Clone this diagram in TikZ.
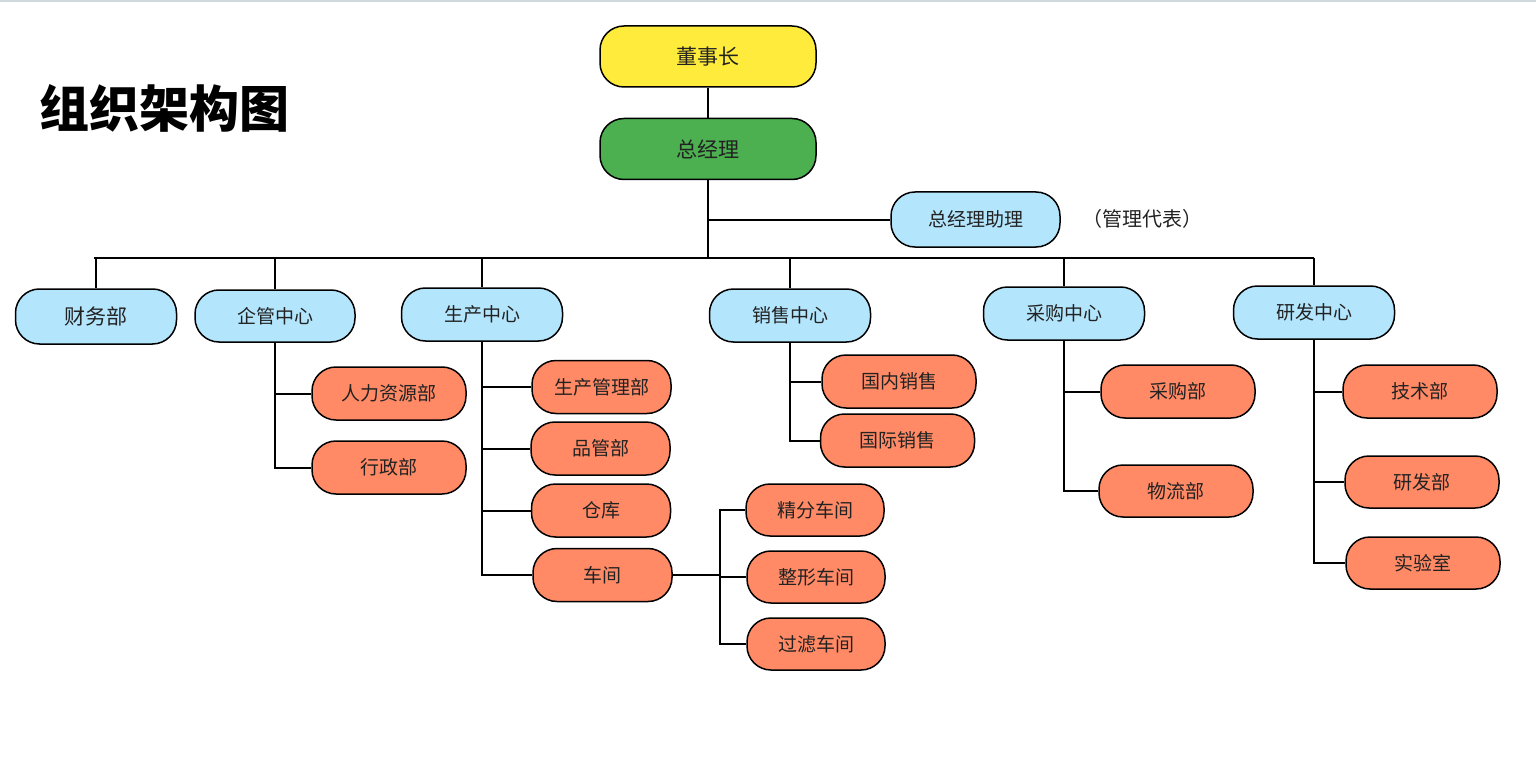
\documentclass[tikz,border=0pt]{standalone}
\usepackage{fontspec}
\newfontfamily\cjk{Noto Sans CJK SC}
\definecolor{cyellow}{HTML}{FFEB3B}
\definecolor{cgreen}{HTML}{4CAF50}
\definecolor{cblue}{HTML}{B3E5FC}
\definecolor{corange}{HTML}{FF8A65}
\definecolor{ctext}{HTML}{222222}
\definecolor{ctop}{HTML}{CFD8DC}
\begin{document}
\begin{tikzpicture}[x=1pt,y=-1pt,
  box/.style={draw=black, line width=1.5pt, rounded corners=24pt, inner sep=0pt,
    minimum height=53pt, text=ctext, font=\cjk\fontsize{19}{19}\selectfont},
  topbox/.style={box, minimum width=216pt, minimum height=61pt, font=\cjk\fontsize{21}{21}\selectfont},
  midbox/.style={box, fill=cblue, minimum width=161pt},
  subbox/.style={box, fill=corange, minimum width=154pt},
  prodbox/.style={box, fill=corange, minimum width=139pt},
  link/.style={draw=black, line width=2pt}
]
\useasboundingbox (0,0) rectangle (1536,770);
\draw[ctop, line width=2pt] (0,1) -- (1536,1);

\node[anchor=west, font=\cjk\bfseries\fontsize{50}{50}\selectfont] (title) at (36,108) {组织架构图};

\node[topbox, fill=cyellow] (dsz) at (708,56.5) {董事长};
\node[topbox, fill=cgreen] (zjl) at (708,149) {总经理};
\node[box, fill=cblue, minimum width=169pt, minimum height=55pt] (zl) at (975.5,219.5) {总经理助理};
\node[text=ctext, font=\cjk\fontsize{20}{20}\selectfont] (dbn) at (1142,219) {（管理代表）};

\node[midbox, minimum height=55pt, font=\cjk\fontsize{21}{21}\selectfont] (cw) at (96,316.5) {财务部};
\node[midbox, minimum width=160pt, minimum height=52pt] (qg) at (275,316) {企管中心};
\node[midbox] (sc) at (482,314.5) {生产中心};
\node[midbox] (xs) at (790,315.5) {销售中心};
\node[midbox] (cg) at (1064,313.5) {采购中心};
\node[midbox] (yf) at (1314,312.5) {研发中心};

\node[subbox] (hr) at (389,393.5) {人力资源部};
\node[subbox] (xz) at (389,467.5) {行政部};

\node[prodbox] (scgl) at (601.5,387) {生产管理部};
\node[prodbox] (pg) at (600.5,448.5) {品管部};
\node[prodbox] (ck) at (601,510.5) {仓库};
\node[prodbox] (cj) at (602.5,575) {车间};

\node[prodbox, minimum width=138pt, minimum height=52pt] (jf) at (815,510) {精分车间};
\node[prodbox, minimum width=138pt, minimum height=52pt] (zx) at (816,577) {整形车间};
\node[prodbox, minimum width=138pt, minimum height=52pt] (gl) at (816,644) {过滤车间};

\node[subbox] (gn) at (899,381.5) {国内销售};
\node[subbox] (gj) at (897.5,440.5) {国际销售};

\node[subbox] (cgb) at (1178,391.5) {采购部};
\node[subbox, minimum height=52pt] (wl) at (1176,491) {物流部};

\node[subbox] (js) at (1420,391.5) {技术部};
\node[subbox, minimum height=52pt] (yfb) at (1422,482) {研发部};
\node[subbox, minimum height=52pt] (syz) at (1423,563) {实验室};

% trunk
\coordinate (busL) at (94,258);
\coordinate (busR) at (1314,258);
\coordinate (busM) at (708,258);
\path (cj.east) ++(47.5,0) coordinate (cjx);
\draw[link] (dsz.south) -- (zjl.north);
\draw[link] (zjl.south) -- (busM);
\draw[link] (zjl.south |- zl.west) -- (zl.west);
\draw[link] (busL) -- (busR);
\foreach \n in {cw,qg,sc,xs,cg,yf}{
  \draw[link, line width=1.7pt] (\n.north) -- (\n.north |- busM);
}
% branches
\draw[link] (qg.south) |- (hr.west);
\draw[link] (qg.south) |- (xz.west);
\foreach \n in {scgl,pg,ck,cj}{ \draw[link] (sc.south) |- (\n.west); }
\draw[link] (cj.east) -- (cjx);
\foreach \n in {jf,zx,gl}{ \draw[link] (cjx) |- (\n.west); }
\foreach \n in {gn,gj}{ \draw[link] (xs.south) |- (\n.west); }
\foreach \n in {cgb,wl}{ \draw[link] (cg.south) |- (\n.west); }
\foreach \n in {js,yfb,syz}{ \draw[link] (yf.south) |- (\n.west); }
\end{tikzpicture}
\end{document}
